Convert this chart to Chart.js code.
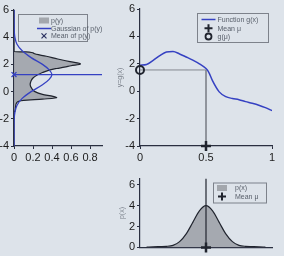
<!DOCTYPE html>
<html>
<head>
<meta charset="utf-8">
<title>Transformation of a density</title>
<script src="https://cdn.jsdelivr.net/npm/chart.js"></script>
<style>
  html, body { margin: 0; padding: 0; background: #dde3ea; overflow: hidden; }
  body { width: 284px; height: 256px; position: relative; }
  .panel { position: absolute; }
  #left { left: 0; top: 0; width: 110px; height: 170px; }
  #top { left: 110px; top: 0; width: 174px; height: 170px; }
  #bottom { left: 110px; top: 170px; width: 174px; height: 86px; }
</style>
</head>
<body>
<div class="panel" id="left"><canvas id="cLeft"></canvas></div>
<div class="panel" id="top"><canvas id="cTop"></canvas></div>
<div class="panel" id="bottom"><canvas id="cBottom"></canvas></div>
<script>
// p(y), drawn sideways: y level on the vertical axis, density on the horizontal one
const pyLevels  = [6, 2.93, 2.92, 2.8, 2.6, 2.4, 2.2, 2.03, 1.9, 1.8, 1.7, 1.6, 1.4, 1.2, 1.0, 0.8, 0.5, 0.2, 0.0, -0.2, -0.35, -0.46, -0.55, -0.64, -0.8, -1.2, -1.45, -1.5, -4];
const pyDensity = [0, 0, 0.13, 0.21, 0.34, 0.46, 0.59, 0.70, 0.6, 0.53, 0.45, 0.38, 0.3, 0.24, 0.2, 0.18, 0.17, 0.19, 0.22, 0.3, 0.41, 0.45, 0.3, 0.1, 0.03, 0.015, 0.01, 0, 0];

// Gaussian fitted to p(y)
const gaussLevels  = [6, 5, 4, 3.5, 3, 2.5, 2, 1.6, 1.25, 0.9, 0.5, 0, -0.5, -1, -1.5, -2, -3, -4];
const gaussDensity = [0, 0.001, 0.009, 0.03, 0.086, 0.18, 0.3, 0.37, 0.4, 0.37, 0.3, 0.18, 0.086, 0.032, 0.01, 0.002, 0, 0];
const meanPy = 1.25;

// g(x)
const gX = [0, 0.05, 0.1, 0.15, 0.2, 0.25, 0.3, 0.35, 0.4, 0.45, 0.5, 0.52, 0.55, 0.6, 0.65, 0.7, 0.75, 0.8, 0.85, 0.9, 0.95, 1];
const gY = [1.9, 1.95, 2.25, 2.6, 2.86, 2.9, 2.72, 2.5, 2.27, 2.0, 1.65, 1.4, 0.75, -0.05, -0.4, -0.53, -0.62, -0.76, -0.88, -1.02, -1.2, -1.42];
const mu = 0.5;
const gMu = 1.55;

// p(x)
const pxX       = [0.05, 0.1, 0.15, 0.2, 0.25, 0.3, 0.35, 0.4, 0.45, 0.5, 0.55, 0.6, 0.65, 0.7, 0.75, 0.8, 0.85, 0.9, 0.95];
const pxDensity = [0.03, 0.06, 0.08, 0.1, 0.2, 0.55, 1.3, 2.4, 3.5, 4.0, 3.5, 2.4, 1.3, 0.55, 0.2, 0.1, 0.08, 0.06, 0.03];

const AXIS = '#2a2f40';
const BLUE = '#3541c2';
const DARK = '#20242e';
const FILL = 'rgba(146,150,156,0.75)';
const FONT = '"Liberation Sans", Arial, sans-serif';

function pts(xs, ys) { return xs.map((x, i) => ({ x: x, y: ys[i] })); }

function axis(min, max, step, size, horizontal) {
  return {
    type: 'linear', min: min, max: max,
    grid: { display: true, drawOnChartArea: false, drawTicks: true, tickLength: 3, color: AXIS },
    border: { display: true, color: AXIS, width: 1.2 },
    ticks: { stepSize: step, includeBounds: false, autoSkip: false, maxRotation: 0,
             color: '#1c1c1c', font: { family: FONT, size: 11 }, padding: 2,
             callback: v => String(+v.toFixed(2)) },
    afterFit(s) { if (horizontal) s.height = size; else s.width = size; }
  };
}

// legend drawn in a framed box inside the plot
const boxLegend = {
  id: 'boxLegend',
  afterDraw(chart, args, o) {
    if (!o.items) return;
    const ctx = chart.ctx;
    ctx.save();
    ctx.strokeStyle = '#7d828b';
    ctx.lineWidth = 1;
    ctx.strokeRect(o.x + 0.5, o.y + 0.5, o.w, o.h);
    ctx.font = '7px ' + FONT;
    ctx.textBaseline = 'middle';
    o.items.forEach(function (it, i) {
      const cy = o.y + o.rows[i];
      const cx = o.x + o.sym;
      ctx.strokeStyle = it.color;
      ctx.fillStyle = it.color;
      if (it.kind === 'patch') {
        ctx.fillRect(cx - 5, cy - 3, 10, 6);
      } else if (it.kind === 'line') {
        ctx.lineWidth = 1.5;
        ctx.beginPath(); ctx.moveTo(cx - 7, cy); ctx.lineTo(cx + 7, cy); ctx.stroke();
      } else if (it.kind === 'plus') {
        ctx.lineWidth = 2;
        ctx.beginPath(); ctx.moveTo(cx - 4, cy); ctx.lineTo(cx + 4, cy);
        ctx.moveTo(cx, cy - 4); ctx.lineTo(cx, cy + 4); ctx.stroke();
      } else if (it.kind === 'cross') {
        ctx.lineWidth = 1.2;
        ctx.beginPath(); ctx.moveTo(cx - 2.5, cy - 2.5); ctx.lineTo(cx + 2.5, cy + 2.5);
        ctx.moveTo(cx + 2.5, cy - 2.5); ctx.lineTo(cx - 2.5, cy + 2.5); ctx.stroke();
      } else if (it.kind === 'ring') {
        ctx.lineWidth = 1.8;
        ctx.beginPath(); ctx.arc(cx, cy, 3, 0, Math.PI * 2); ctx.stroke();
      }
      ctx.fillStyle = '#59606b';
      ctx.fillText(it.text, o.x + o.text, cy + 0.5);
    });
    ctx.restore();
  }
};

const common = {
  responsive: true,
  maintainAspectRatio: false,
  animation: false,
  events: []
};

// left: p(y)
const leftXMax = 0.926;
new Chart(document.getElementById('cLeft'), {
  type: 'line',
  data: {
    datasets: [
      { label: 'Mean of p(y)', data: [{ x: 0, y: meanPy }, { x: leftXMax, y: meanPy }],
        borderColor: BLUE, borderWidth: 1.3, pointRadius: [3.5, 0], pointStyle: 'crossRot',
        pointBorderColor: BLUE, pointBorderWidth: 1.3, clip: false },
      { label: 'Gaussian of p(y)', data: pts(gaussDensity, gaussLevels),
        borderColor: BLUE, borderWidth: 1.3, pointRadius: 0, cubicInterpolationMode: 'monotone' },
      { label: 'p(y)', data: pts(pyDensity, pyLevels),
        borderColor: DARK, borderWidth: 1.2, pointRadius: 0, cubicInterpolationMode: 'monotone',
        fill: 'origin', backgroundColor: FILL }
    ]
  },
  options: Object.assign({}, common, {
    indexAxis: 'y',
    layout: { padding: { top: 10, right: 8, left: 0, bottom: 0 } },
    scales: {
      x: axis(0, leftXMax, 0.2, 24, true),
      y: axis(-4, 6, 2, 14, false)
    },
    plugins: {
      legend: { display: false }, tooltip: { enabled: false },
      boxLegend: { x: 18, y: 14, w: 69, h: 27, sym: 26, text: 33, rows: [6.5, 14.5, 21.8],
        items: [
          { kind: 'patch', color: '#a3a7ad', text: 'p(y)' },
          { kind: 'line', color: BLUE, text: 'Gaussian of p(y)' },
          { kind: 'cross', color: '#2a3060', text: 'Mean of p(y)' }
        ] }
    }
  }),
  plugins: [boxLegend]
});

// top right: y = g(x)
new Chart(document.getElementById('cTop'), {
  type: 'line',
  data: {
    datasets: [
      { label: 'Mean μ', data: [{ x: mu, y: -4 }], showLine: false, pointStyle: 'cross',
        pointRadius: 5, pointBorderWidth: 2.5, pointBorderColor: DARK, clip: false },
      { label: 'g(μ)', data: [{ x: 0, y: gMu }], showLine: false, pointStyle: 'circle',
        pointRadius: 4, pointBorderWidth: 2, pointBorderColor: DARK,
        pointBackgroundColor: 'rgba(0,0,0,0)', clip: false },
      { label: 'Function g(x)', data: pts(gX, gY), borderColor: BLUE, borderWidth: 1.5,
        pointRadius: 0, cubicInterpolationMode: 'monotone' },
      { label: 'guide', data: [{ x: 0, y: gMu }, { x: mu, y: gMu }, { x: mu, y: -4 }],
        borderColor: '#858991', borderWidth: 1, pointRadius: 0 }
    ]
  },
  options: Object.assign({}, common, {
    layout: { padding: { top: 9, right: 12, left: 0, bottom: 0 } },
    scales: {
      x: axis(0, 1, 0.5, 24, true),
      y: Object.assign(axis(-4, 6, 2, 30, false), {
        title: { display: true, text: 'y=g(x)', color: '#7a808a',
                 font: { family: FONT, size: 7 }, padding: { top: 6, bottom: 0 } }
      })
    },
    plugins: {
      legend: { display: false }, tooltip: { enabled: false },
      boxLegend: { x: 87, y: 13, w: 71, h: 29, sym: 11.5, text: 20.5, rows: [6.5, 15.3, 23.5],
        items: [
          { kind: 'line', color: BLUE, text: 'Function g(x)' },
          { kind: 'plus', color: DARK, text: 'Mean μ' },
          { kind: 'ring', color: DARK, text: 'g(μ)' }
        ] }
    }
  }),
  plugins: [boxLegend]
});

// bottom: p(x)
const bottomYMax = 6.6;
new Chart(document.getElementById('cBottom'), {
  type: 'line',
  data: {
    datasets: [
      { label: 'Mean μ', data: [{ x: mu, y: 0 }], showLine: false, pointStyle: 'cross',
        pointRadius: 5, pointBorderWidth: 2.5, pointBorderColor: DARK, clip: false },
      { label: 'mean line', data: [{ x: mu, y: 0 }, { x: mu, y: bottomYMax }],
        borderColor: DARK, borderWidth: 1.2, pointRadius: 0 },
      { label: 'p(x)', data: pts(pxX, pxDensity), borderColor: DARK, borderWidth: 1.2,
        pointRadius: 0, cubicInterpolationMode: 'monotone', fill: 'origin', backgroundColor: FILL }
    ]
  },
  options: Object.assign({}, common, {
    layout: { padding: { top: 7, right: 12, left: 0, bottom: 0 } },
    scales: {
      x: Object.assign(axis(0, 1, 0.5, 7, true), {
        ticks: { display: false }, grid: { display: false }
      }),
      y: Object.assign(axis(0, bottomYMax, 2, 30, false), {
        title: { display: true, text: 'p(x)', color: '#7a808a',
                 font: { family: FONT, size: 7 }, padding: { top: 8, bottom: 0 } }
      })
    },
    plugins: {
      legend: { display: false }, tooltip: { enabled: false },
      boxLegend: { x: 103, y: 12.5, w: 53, h: 20, sym: 9, text: 22, rows: [5.5, 14],
        items: [
          { kind: 'patch', color: '#a3a7ad', text: 'p(x)' },
          { kind: 'plus', color: DARK, text: 'Mean μ' }
        ] }
    }
  }),
  plugins: [boxLegend]
});
</script>
</body>
</html>
